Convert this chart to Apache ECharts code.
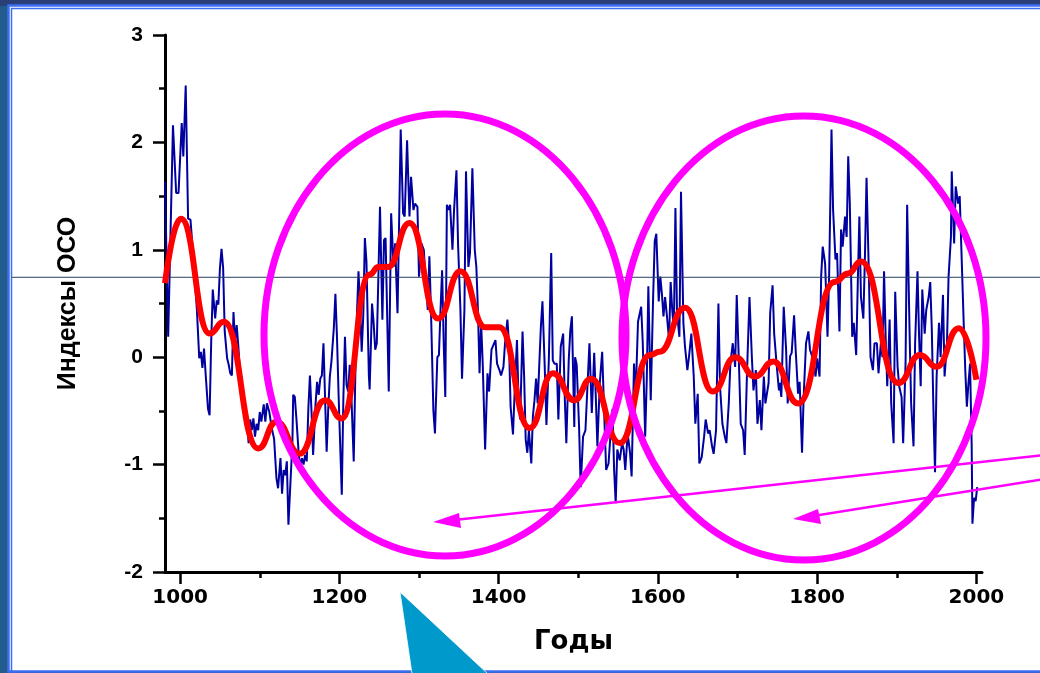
<!DOCTYPE html>
<html><head><meta charset="utf-8">
<script src="https://cdn.jsdelivr.net/npm/echarts@6/dist/echarts.min.js"></script>
<style>html,body{margin:0;padding:0;background:#215c8c;}#c{width:1040px;height:673px;}</style>
</head><body><div id="c"></div>
<script>
// ---- data ----
const xMajorTicks = [1000, 1200, 1400, 1600, 1800, 2000];
const xMinorTicks = [1100, 1300, 1500, 1700, 1900];
const yAxisMin = -2, yAxisMax = 3, yInterval = 1;
const xAxisMin = 981, xAxisMax = 2007;
const yTitle = 'Индексы ОСО';
const xTitle = 'Годы';
const refLevel = 0.744;

// OSO index reconstruction (year, value)
const ocoRaw = [
[981,1.63],[985,0.19],[991,2.16],[995,1.53],[998,1.53],[1002,2.18],[1004,1.87],[1007,2.53],[1010,1.29],[1013,1.28],
[1017,0.89],[1021,0.45],[1024,-0.01],[1026,0.05],[1028,-0.10],[1030,0.08],[1032,-0.15],[1035,-0.48],[1037,-0.54],[1039,0.14],
[1041,0.63],[1044,0.36],[1046,0.53],[1048,0.49],[1050,0.83],[1052,1.01],[1054,0.83],[1056,0.24],[1059,-0.01],[1061,-0.07],
[1063,-0.15],[1065,-0.17],[1067,0.42],[1069,0.14],[1071,0.30],[1073,0.11],[1076,-0.23],[1080,-0.48],[1082,-0.63],[1084,-0.60],
[1086,-0.80],[1088,-0.58],[1090,-0.68],[1092,-0.57],[1094,-0.74],[1096,-0.62],[1098,-0.68],[1100,-0.51],[1102,-0.60],[1105,-0.44],
[1107,-0.60],[1109,-0.43],[1112,-0.51],[1115,-0.66],[1118,-0.76],[1121,-1.13],[1123,-1.22],[1126,-0.94],[1128,-1.27],[1130,-1.05],
[1132,-1.10],[1134,-0.97],[1136,-1.56],[1138,-1.25],[1141,-0.79],[1142,-0.35],[1144,-0.37],[1146,-0.57],[1149,-0.91],[1151,-1.02],
[1153,-0.94],[1155,-1.00],[1157,-0.91],[1159,-0.97],[1161,-0.48],[1163,-0.17],[1165,-0.51],[1167,-0.91],[1170,-0.44],[1172,-0.23],
[1174,-0.35],[1176,-0.20],[1178,-0.17],[1180,0.13],[1182,0.14],[1184,-0.88],[1186,-0.48],[1188,-0.18],[1190,-0.04],[1193,0.27],
[1195,0.59],[1197,0.18],[1199,-0.35],[1201,-0.82],[1203,-1.28],[1205,-0.38],[1207,0.19],[1209,-0.26],[1211,-0.32],[1213,-0.07],
[1215,-0.35],[1218,-0.97],[1220,-0.17],[1222,0.39],[1224,0.80],[1226,0.46],[1228,0.05],[1230,0.39],[1232,1.11],[1234,0.89],
[1237,-0.17],[1238,-0.30],[1241,0.50],[1243,0.32],[1245,0.07],[1247,0.13],[1251,1.40],[1254,0.35],[1256,1.09],[1258,1.11],
[1262,-0.32],[1265,1.34],[1268,0.84],[1270,1.06],[1273,0.41],[1277,2.12],[1280,1.34],[1282,1.31],[1285,2.02],[1288,1.31],
[1290,1.68],[1293,1.37],[1295,1.43],[1298,1.40],[1300,0.75],[1303,1.06],[1306,1.00],[1308,0.75],[1311,0.44],[1313,0.94],
[1315,0.44],[1318,-0.49],[1320,-0.71],[1323,0.00],[1325,0.02],[1327,0.44],[1329,0.81],[1331,0.13],[1333,-0.37],[1335,1.42],
[1337,1.37],[1339,1.42],[1342,1.00],[1344,1.37],[1347,1.74],[1349,1.06],[1352,0.44],[1354,-0.20],[1357,0.44],[1359,1.73],
[1362,0.84],[1364,0.97],[1367,1.76],[1370,1.00],[1372,0.84],[1374,0.44],[1376,-0.15],[1378,0.32],[1380,-0.06],[1383,-0.86],
[1386,-0.15],[1388,-0.32],[1391,0.07],[1393,0.07],[1396,0.16],[1398,-0.06],[1401,-0.12],[1403,-0.17],[1406,-0.09],[1408,0.13],
[1411,0.35],[1413,0.13],[1415,-0.46],[1418,-0.72],[1420,-0.34],[1423,0.16],[1425,-0.40],[1427,-0.58],[1430,0.24],[1432,-0.18],
[1434,-0.77],[1436,-0.89],[1438,-0.68],[1441,-0.99],[1443,-0.55],[1445,-0.40],[1447,-0.20],[1449,-0.43],[1453,0.28],[1455,0.52],
[1458,-0.12],[1460,-0.63],[1463,-0.03],[1466,0.97],[1468,-0.03],[1470,-0.06],[1473,-0.06],[1475,-0.58],[1478,0.10],[1481,0.22],
[1483,-0.37],[1485,-0.80],[1488,-0.03],[1490,0.25],[1492,0.38],[1495,-0.65],[1496,0.00],[1498,-0.07],[1501,-0.65],[1503,-1.21],
[1506,-0.74],[1509,-0.68],[1511,-0.68],[1514,0.13],[1517,-0.52],[1520,0.04],[1522,-0.37],[1524,-0.83],[1527,-0.24],[1530,0.05],
[1533,-0.62],[1535,-1.05],[1538,-0.99],[1540,-0.77],[1543,-0.48],[1545,-1.05],[1547,-1.36],[1549,-0.86],[1552,-0.96],[1555,-0.80],
[1557,-0.86],[1559,-1.05],[1562,-0.71],[1565,-0.89],[1567,-1.11],[1570,-0.06],[1572,-0.37],[1575,0.33],[1577,0.32],[1579,0.47],
[1581,0.13],[1584,-0.74],[1586,-0.21],[1588,0.66],[1591,-0.40],[1594,0.56],[1596,1.08],[1598,1.15],[1601,0.52],[1603,0.75],
[1605,0.59],[1607,0.38],[1609,0.56],[1611,0.41],[1614,0.16],[1616,0.70],[1618,0.44],[1620,0.25],[1622,1.39],[1624,0.41],
[1627,0.19],[1629,1.54],[1632,0.32],[1634,0.10],[1637,-0.12],[1639,0.00],[1642,0.22],[1645,-0.18],[1647,-0.62],[1650,-0.34],
[1652,-0.99],[1655,-0.93],[1658,-0.74],[1660,-0.58],[1663,-0.71],[1665,-0.68],[1668,-0.83],[1670,-0.90],[1673,-0.68],[1676,0.50],
[1678,-0.27],[1681,-0.62],[1684,-0.74],[1686,-0.80],[1689,-0.43],[1691,-0.06],[1694,0.13],[1697,-0.09],[1699,0.58],[1702,-0.12],
[1704,-0.62],[1707,-0.68],[1709,-0.91],[1712,-0.12],[1715,0.56],[1718,0.00],[1720,-0.31],[1723,-0.12],[1725,-0.62],[1728,-0.40],
[1730,-0.68],[1733,-0.18],[1735,-0.43],[1739,-0.24],[1741,0.41],[1744,0.67],[1746,0.22],[1749,-0.06],[1752,-0.31],[1753,-0.24],
[1755,-0.37],[1758,0.47],[1761,0.07],[1763,-0.43],[1766,0.01],[1768,0.04],[1771,0.39],[1773,0.07],[1776,-0.34],[1778,-0.23],
[1781,-0.89],[1783,-0.37],[1786,0.13],[1789,0.24],[1791,0.07],[1794,0.00],[1796,-0.09],[1798,-0.18],[1800,-0.01],[1803,-0.18],
[1805,0.75],[1807,1.03],[1810,0.87],[1813,0.19],[1815,0.75],[1818,2.12],[1820,1.37],[1823,0.91],[1825,0.97],[1828,0.24],
[1830,1.19],[1832,1.03],[1835,1.31],[1837,1.12],[1839,1.87],[1841,1.43],[1844,0.19],[1846,0.32],[1849,0.02],[1851,0.69],
[1853,1.31],[1855,0.56],[1858,0.36],[1860,0.94],[1862,1.67],[1865,0.75],[1867,0.00],[1870,-0.12],[1872,0.13],[1875,0.13],
[1877,-0.15],[1880,0.13],[1882,0.00],[1884,0.80],[1886,0.19],[1888,-0.27],[1891,0.35],[1893,-0.43],[1896,-0.80],[1898,0.61],
[1901,-0.09],[1903,-0.27],[1906,-0.37],[1908,-0.80],[1911,-0.06],[1913,1.42],[1916,0.25],[1918,-0.43],[1921,-0.83],[1923,0.13],
[1926,0.80],[1928,0.19],[1930,-0.27],[1932,0.63],[1935,0.22],[1937,0.44],[1940,0.56],[1942,0.70],[1944,0.25],[1946,-0.49],
[1948,-1.07],[1950,-0.18],[1953,0.32],[1955,0.00],[1958,0.58],[1960,-0.18],[1963,0.13],[1965,0.75],[1968,1.12],[1969,1.73],
[1972,1.06],[1974,1.59],[1977,1.43],[1979,1.50],[1981,1.03],[1984,0.32],[1986,-0.12],[1988,-0.46],[1990,-0.24],[1992,-0.06],
[1994,-0.80],[1995,-1.55],[1997,-1.31],[1999,-1.34],[2001,-1.21]
];

// smoothed curve (year, value)
const ocoSmooth = [
[981,0.69],[1001,1.29],[1037,0.22],[1055,0.33],[1098,-0.85],[1121,-0.60],[1150,-0.90],[1182,-0.40],[1203,-0.57],
[1238,0.77],[1249,0.84],[1261,0.84],[1288,1.25],[1324,0.36],[1352,0.80],[1383,0.28],[1401,0.28],[1439,-0.66],
[1468,-0.15],[1495,-0.40],[1516,-0.20],[1552,-0.80],[1590,0.02],[1602,0.05],[1634,0.46],[1669,-0.32],[1697,0.00],
[1722,-0.18],[1745,-0.04],[1776,-0.43],[1822,0.70],[1839,0.78],[1855,0.89],[1902,-0.24],[1929,0.02],[1950,-0.09],
[1978,0.27],[2000,-0.21]
];

// ---- chart ----
const chart = echarts.init(document.getElementById('c'), null, {renderer: 'canvas'});
const MAG = '#ff00ff';
const axisFont = '"Liberation Sans", Arial, sans-serif';

const option = {
  animation: false,
  backgroundColor: '#215c8c',
  grid: {left: 165, right: 58, top: 35, bottom: 101, containLabel: false},
  xAxis: [{
    type: 'value', min: xAxisMin, max: xAxisMax, position: 'bottom',
    axisLine: {show: true, onZero: false, lineStyle: {color: '#000', width: 3}},
    axisTick: {show: true, length: 12, customValues: xMajorTicks, lineStyle: {color: '#000', width: 2.5}},
    axisLabel: {customValues: xMajorTicks, margin: 16, color: '#000', fontSize: 20, fontWeight: 'bold',
      fontFamily: '"DejaVu Sans", sans-serif', formatter: v => String(v)},
    splitLine: {show: false},
    name: xTitle, nameLocation: 'middle', nameGap: 57,
    nameTextStyle: {color: '#000', fontSize: 26, fontWeight: 'bold', fontFamily: '"DejaVu Sans", sans-serif'}
  }, {
    type: 'value', min: xAxisMin, max: xAxisMax, position: 'bottom', offset: 0,
    axisLine: {show: false, onZero: false},
    axisTick: {show: true, length: 6, customValues: xMinorTicks, lineStyle: {color: '#000', width: 2.5}},
    axisLabel: {show: false},
    splitLine: {show: false}
  }],
  yAxis: {
    type: 'value', min: yAxisMin, max: yAxisMax, interval: yInterval,
    axisLine: {show: true, onZero: false, lineStyle: {color: '#000', width: 3}},
    axisTick: {show: true, length: 12, lineStyle: {color: '#000', width: 2.5}},
    minorTick: {show: true, splitNumber: 2, length: 6, lineStyle: {color: '#000', width: 2.5}},
    axisLabel: {margin: 22, color: '#000', fontSize: 21, fontWeight: 'bold', fontFamily: axisFont},
    splitLine: {show: false},
    name: yTitle, nameLocation: 'middle', nameGap: 84, nameRotate: 90,
    nameTextStyle: {color: '#000', fontSize: 25, fontWeight: 'bold', fontFamily: axisFont}
  },
  series: [{
    type: 'line', data: ocoRaw, showSymbol: false, symbol: 'none', z: 3,
    lineStyle: {color: '#0000a0', width: 2}
  }, {
    type: 'line', data: ocoSmooth, showSymbol: false, symbol: 'none', z: 5,
    smooth: 0.5, smoothMonotone: 'x',
    lineStyle: {color: '#ff0000', width: 6}
  }]
};
chart.setOption(option);

const yRef = chart.convertToPixel({yAxisIndex: 0}, refLevel);

chart.setOption({
  graphic: [
    {type: 'rect', z: -100, silent: true, shape: {x: 0, y: 0, width: 1040, height: 6}, style: {fill: '#2a3f78'}},
    {type: 'rect', z: -99, silent: true, shape: {x: 8.5, y: 5.5, width: 1100, height: 666}, style: {fill: '#ffffff', stroke: '#3a6df0', lineWidth: 2.5}},
    {type: 'rect', z: -98, silent: true, shape: {x: 11.5, y: 8.5, width: 1100, height: 670}, style: {fill: 'none', stroke: '#3a6df0', lineWidth: 1.5}},
    {type: 'line', z: 4, silent: true, shape: {x1: 12, y1: yRef, x2: 1040, y2: yRef}, style: {stroke: '#2a4060', lineWidth: 1}},
    {type: 'ellipse', z: 100, silent: true, shape: {cx: 445, cy: 335, rx: 181, ry: 221}, style: {fill: 'none', stroke: MAG, lineWidth: 7}},
    {type: 'ellipse', z: 100, silent: true, shape: {cx: 804, cy: 338, rx: 182, ry: 222}, style: {fill: 'none', stroke: MAG, lineWidth: 7}},
    {type: 'line', z: 100, silent: true, shape: {x1: 1045, y1: 455, x2: 450, y2: 520.5}, style: {stroke: MAG, lineWidth: 2.5}},
    {type: 'polygon', z: 100, silent: true, shape: {points: [[433, 522], [459, 513], [461, 528]]}, style: {fill: MAG}},
    {type: 'line', z: 100, silent: true, shape: {x1: 1045, y1: 479, x2: 810, y2: 516.5}, style: {stroke: MAG, lineWidth: 2.5}},
    {type: 'polygon', z: 100, silent: true, shape: {points: [[793, 519], [818, 509], [821, 524]]}, style: {fill: MAG}},
    {type: 'polygon', z: 100, silent: true, shape: {points: [[400, 592], [412, 674], [488, 674]]}, style: {fill: '#0099cc', stroke: '#ffffff', lineWidth: 0.8}}
  ]
});
</script>
</body></html>
